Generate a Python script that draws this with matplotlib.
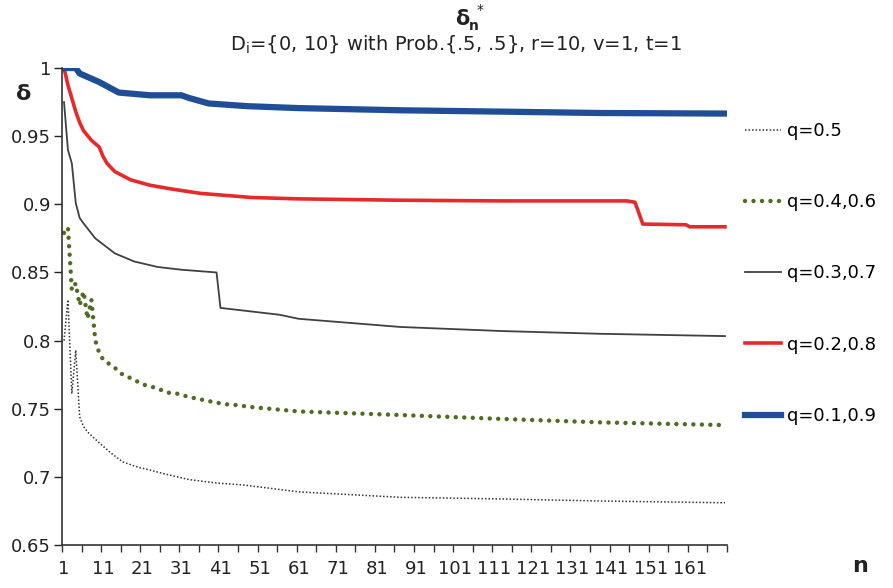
import matplotlib
matplotlib.use('Agg')
import matplotlib.pyplot as plt
from matplotlib.ticker import FixedLocator, NullFormatter

plt.rcParams['font.family'] = 'DejaVu Sans'
plt.rcParams['mathtext.fontset'] = 'dejavusans'

n_last = 170  # number of n values on the category axis

# values (n, delta) at the points where the curves bend
n_q05 = [1, 2, 3, 4, 5, 6, 7, 10, 13, 16, 20, 23, 27, 33, 40, 47, 61, 87, 113, 138, 170]
d_q05 = [0.800, 0.830, 0.761, 0.793, 0.744, 0.737, 0.733, 0.725, 0.7175, 0.711, 0.707,
         0.705, 0.702, 0.698, 0.6955, 0.694, 0.689, 0.685, 0.6838, 0.6823, 0.681]

n_q04 = [1, 2, 3, 4, 5, 6, 7, 8, 9, 10, 11, 12, 14, 16, 18, 20, 22, 25, 27, 30, 33, 38,
         42, 45, 49, 61, 87, 113, 138, 170]
d_q04 = [0.879, 0.883, 0.837, 0.842, 0.826, 0.836, 0.816, 0.830, 0.800, 0.791, 0.786,
         0.784, 0.780, 0.775, 0.7725, 0.7696, 0.767, 0.765, 0.762, 0.761, 0.7586, 0.7556,
         0.7534, 0.7527, 0.7512, 0.748, 0.7454, 0.7425, 0.740, 0.738]

n_q03 = [1, 2, 3, 4, 5, 6, 9, 14, 19, 25, 31, 40, 41, 56, 61, 87, 113, 138, 170]
d_q03 = [0.975, 0.940, 0.930, 0.901, 0.890, 0.886, 0.875, 0.864, 0.858, 0.854, 0.852,
         0.850, 0.824, 0.819, 0.816, 0.810, 0.807, 0.805, 0.8033]

n_q02 = [1, 2, 4, 5, 6, 8, 10, 11, 12, 14, 18, 23, 29, 36, 49, 61, 87, 113, 145, 147,
         149, 160, 161, 170]
d_q02 = [1.0, 0.9875, 0.968, 0.960, 0.954, 0.947, 0.942, 0.935, 0.930, 0.924, 0.918,
         0.914, 0.911, 0.908, 0.905, 0.904, 0.903, 0.9025, 0.9025, 0.9015, 0.8855, 0.885,
         0.8835, 0.8835]

n_q01 = [1, 4, 5, 10, 15, 23, 31, 33, 38, 48, 61, 87, 113, 138, 170]
d_q01 = [1.0, 1.0, 0.996, 0.9897, 0.982, 0.980, 0.980, 0.978, 0.974, 0.972, 0.9706,
         0.969, 0.968, 0.967, 0.9666]

labels = ['q=0.5', 'q=0.4,0.6', 'q=0.3,0.7', 'q=0.2,0.8', 'q=0.1,0.9']
y_ticks = [0.65, 0.7, 0.75, 0.8, 0.85, 0.9, 0.95, 1.0]
y_tick_labels = ['0.65', '0.7', '0.75', '0.8', '0.85', '0.9', '0.95', '1']
x_label_pos = list(range(1, 162, 10))

fig = plt.figure(figsize=(8.93, 5.88), dpi=100)
ax = fig.add_axes([0.0695, 0.0731, 0.7445, 0.8112])

h1, = ax.plot(n_q05, d_q05, color='#333333', lw=1.1, ls=(0, (1, 1.3)))
h2, = ax.plot(n_q04, d_q04, color='#526b24', lw=3.2, ls=(0, (0.01, 1.9)),
              dash_capstyle='round')
h3, = ax.plot(n_q03, d_q03, color='#404040', lw=1.3)
h4, = ax.plot(n_q02, d_q02, color='#e8282b', lw=2.6)
h5, = ax.plot(n_q01, d_q01, color='#1f4e96', lw=4.5)

ax.set_xlim(0.5, n_last + 0.5)
ax.set_ylim(0.65, 1.0)
ax.spines['top'].set_visible(False)
ax.spines['right'].set_visible(False)
ax.spines['left'].set_color('#333333')
ax.spines['bottom'].set_color('#333333')
ax.spines['left'].set_linewidth(1.2)
ax.spines['bottom'].set_linewidth(1.2)

ax.set_yticks(y_ticks)
ax.set_yticklabels(y_tick_labels)
ax.set_xticks(x_label_pos)
ax.set_xticklabels([str(v) for v in x_label_pos])
ax.xaxis.set_minor_locator(FixedLocator([0.5 + 5 * k for k in range(35)]))
ax.xaxis.set_minor_formatter(NullFormatter())
ax.tick_params(axis='x', which='major', length=0, pad=11, labelsize=13, colors='#222222')
ax.tick_params(axis='x', which='minor', length=5, width=1, direction='out', color='#333333')
ax.tick_params(axis='y', length=6, width=1, direction='out', pad=2, labelsize=13,
               colors='#222222')

ax.legend([h1, h2, h3, h4, h5], labels, loc='upper left', bbox_to_anchor=(0.826, 0.805),
          bbox_transform=fig.transFigure, frameon=False, fontsize=13, handlelength=2.0,
          handletextpad=0.35, labelspacing=2.95, borderaxespad=0)

# titles and axis names
fig.text(0.518, 0.968, 'δ', fontsize=15, fontweight='bold', ha='center', va='center',
         color='#222222')
fig.text(0.531, 0.955, 'n', fontsize=10, fontweight='bold', ha='center', va='center',
         color='#222222')
fig.text(0.538, 0.983, '*', fontsize=10, ha='center', va='center', color='#222222')
fig.text(0.51, 0.926, r'D$_\mathrm{i}$={0, 10} with Prob.{.5, .5}, r=10, v=1, t=1',
         fontsize=14, ha='center', va='center', color='#222222')
fig.text(0.027, 0.84, 'δ', fontsize=16, fontweight='bold', ha='center', va='center',
         color='#222222')
fig.text(0.963, 0.038, 'n', fontsize=16, fontweight='bold', ha='center', va='center',
         color='#222222')

fig.savefig('out.png', dpi=100)
